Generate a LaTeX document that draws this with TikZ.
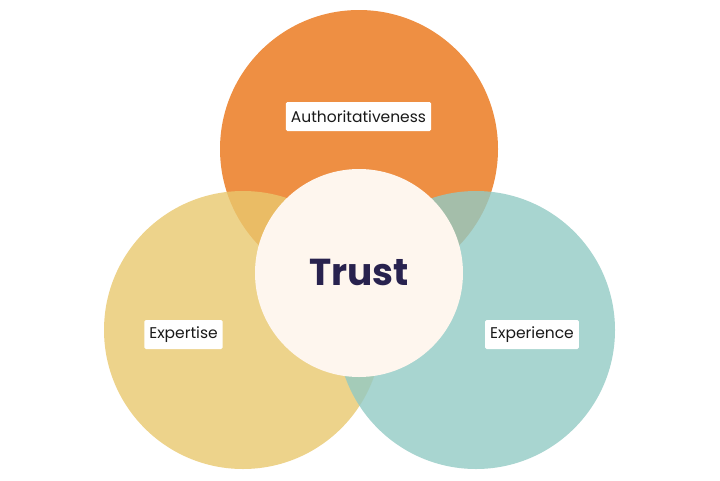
\documentclass[tikz,border=0pt]{standalone}
\usepackage{fontspec}
\setmainfont{Poppins}
\definecolor{orangeC}{RGB}{238,143,67}
\definecolor{yellowC}{RGB}{233,200,110}
\definecolor{tealC}{RGB}{146,202,196}
\definecolor{creamC}{RGB}{254,246,238}
\definecolor{navyC}{RGB}{40,34,78}
\definecolor{labelC}{RGB}{25,25,25}
\begin{document}
\begin{tikzpicture}[x=1pt,y=-1pt,
  petal/.style={circle,minimum size=278pt,inner sep=0pt,draw=none},
  tag/.style={fill=white,rounded corners=1.5pt,text=labelC,font=\fontsize{15.5}{18}\selectfont,minimum height=29pt,inner xsep=5pt,inner ysep=0pt}]
\useasboundingbox (0,0) rectangle (720,480);
\node[petal,fill=orangeC] (auth) at (359,149) {};
\node[petal,fill=yellowC,fill opacity=0.8] (expt) at (243,330) {};
\node[petal,fill=tealC,fill opacity=0.8] (expe) at (476,330) {};
\node[circle,minimum size=208pt,inner sep=0pt,fill=creamC] (trust) at (359,273) {};
\node[text=navyC,font=\fontsize{37.5}{45}\selectfont\bfseries] (trustlbl) at (359,272) {Trust};
\node[tag] (authlbl) at (358.5,116.5) {Authoritativeness};
\node[tag] (exptlbl) at (183.5,334.5) {Expertise};
\node[tag] (expelbl) at (532,334.5) {Experience};
\end{tikzpicture}
\end{document}
